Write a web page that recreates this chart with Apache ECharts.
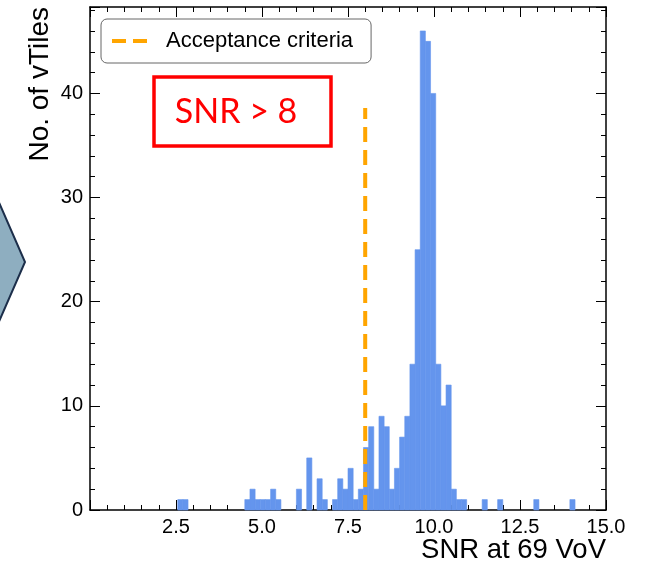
<!DOCTYPE html>
<html>
<head>
<meta charset="utf-8">
<script src="https://cdn.jsdelivr.net/npm/echarts@6/dist/echarts.min.js"></script>
<style>html,body{margin:0;padding:0;background:#fff}#c{width:651px;height:565px}</style>
</head>
<body>
<div id="c"></div>
<script>
// Histogram data (bin start, count); bin width 0.15
const binWidth = 0.15;
const binStarts = [2.55, 2.70, 4.50, 4.65, 4.80, 4.95, 5.10, 5.25, 5.40, 6.00, 6.30, 6.60, 6.75, 7.05, 7.20, 7.35, 7.50, 7.65, 7.80, 7.95, 8.10, 8.25, 8.40, 8.55, 8.70, 8.85, 9.00, 9.15, 9.30, 9.45, 9.60, 9.75, 9.90, 10.05, 10.20, 10.35, 10.50, 10.65, 10.80, 11.40, 11.85, 12.90, 13.95];
const counts    = [1,    1,    1,    2,    1,    1,    1,    2,    1,    2,    5,    3,    1,    1,    3,    2,    4,    1,    2,    6,    8,    2,    9,    8,    2,    4,    7,    9,    14,   25,   46,   45,   40,   14,    10,    12,    2,     1,     1,     1,     1,     1,     1];
// Acceptance criterion line
const criterionX = [8, 8];
const criterionY = [0, 38.6];
const xTickLabels = ['2.5', '5.0', '7.5', '10.0', '12.5', '15.0'];
const yTickLabels = ['0', '10', '20', '30', '40'];

const chart = echarts.init(document.getElementById('c'), null, {renderer: 'canvas'});
const FONT = 'Liberation Sans';
const black = '#000';

function xAxisDef(pos, labels) {
  return {
    type: 'value', min: 0, max: 15, interval: 2.5, position: pos,
    axisLine: {show: true, onZero: false, lineStyle: {color: black, width: 1.5}},
    axisTick: {show: true, inside: true, length: 10, lineStyle: {color: black, width: 1}},
    minorTick: {show: true, splitNumber: 5, length: 5, lineStyle: {color: black, width: 1}},
    splitLine: {show: false}, minorSplitLine: {show: false},
    axisLabel: {
      show: labels, fontSize: 20, color: black, fontFamily: FONT, margin: 7,
      formatter: function (v) { const s = v.toFixed(1); return xTickLabels.indexOf(s) >= 0 ? s : ''; }
    }
  };
}
function yAxisDef(pos, interval, len, labels, line) {
  return {
    type: 'value', min: 0, max: 48.3, interval: interval, position: pos, offset: 0,
    axisLine: {show: line, onZero: false, lineStyle: {color: black, width: 1.5}},
    axisTick: {show: true, inside: true, length: len, lineStyle: {color: black, width: 1}},
    splitLine: {show: false},
    axisLabel: {
      show: labels, fontSize: 20, color: black, fontFamily: FONT, margin: 7,
      formatter: function (v) { const s = String(v); return yTickLabels.indexOf(s) >= 0 ? s : ''; }
    }
  };
}

const option = {
  animation: false,
  backgroundColor: '#fff',
  grid: {left: 90, right: 45, top: 7, bottom: 55, containLabel: false},
  xAxis: [xAxisDef('bottom', true), xAxisDef('top', false)],
  yAxis: [
    yAxisDef('left', 10, 10, true, true),
    yAxisDef('left', 2, 5, false, false),
    yAxisDef('right', 10, 10, false, true),
    yAxisDef('right', 2, 5, false, false)
  ],
  legend: {
    left: 101, top: 19,
    data: [{name: 'Acceptance criteria', icon: 'path://M0,0H14V4H0Z M21,0H35V4H21Z'}],
    padding: [11, 18, 11, 11],
    itemWidth: 35, itemHeight: 4,
    borderColor: '#666', borderWidth: 1, borderRadius: 6,
    backgroundColor: '#fff',
    itemStyle: {color: '#FFA500', borderWidth: 0},
    lineStyle: {width: 0},
    textStyle: {fontSize: 22, color: black, fontFamily: FONT, padding: [0, 0, 0, 14]}
  },
  series: [
    {
      name: 'SNR histogram',
      type: 'custom',
      xAxisIndex: 0, yAxisIndex: 0,
      data: binStarts.map(function (s, i) { return [s, counts[i]]; }),
      renderItem: function (params, api) {
        const x0 = api.value(0), c = api.value(1);
        const p0 = api.coord([x0, c]);
        const p1 = api.coord([x0 + binWidth, 0]);
        return {
          type: 'rect',
          shape: {x: p0[0], y: p0[1], width: p1[0] - p0[0], height: p1[1] - p0[1]},
          style: {fill: '#6495ED', stroke: '#6495ED', lineWidth: 0.6}
        };
      },
      z: 2
    },
    {
      name: 'Acceptance criteria',
      type: 'line',
      xAxisIndex: 0, yAxisIndex: 0,
      data: criterionX.map(function (x, i) { return [x, criterionY[i]]; }),
      symbol: 'none', showSymbol: false,
      lineStyle: {color: '#FFA500', width: 4, type: [15, 8]},
      itemStyle: {color: '#FFA500'},
      z: 5
    }
  ],
  graphic: [
    {
      type: 'polygon', silent: true,
      shape: {points: [[-10, 182], [25, 262], [-10, 342]]},
      style: {fill: '#8eaec0', stroke: '#1c2e4a', lineWidth: 2}
    },
    {
      type: 'rect', silent: true,
      shape: {x: 154, y: 77, width: 177, height: 69},
      style: {fill: 'rgba(0,0,0,0)', stroke: '#ff0000', lineWidth: 3.5}
    },
    {
      type: 'text', silent: true, x: 236, y: 112,
      style: {text: 'SNR > 8', fill: '#ff0000', font: '34px Lato', align: 'center', verticalAlign: 'middle'}
    },
    {
      type: 'text', silent: true, x: 606, y: 550,
      style: {text: 'SNR at 69 VoV', fill: black, font: '27.5px "Liberation Sans"', align: 'right', verticalAlign: 'middle'}
    },
    {
      type: 'text', silent: true, x: 40, y: 7, rotation: Math.PI / 2,
      style: {text: 'No. of vTiles', fill: black, font: '28px "Liberation Sans"', align: 'right', verticalAlign: 'middle'}
    }
  ]
};
chart.setOption(option);
</script>
</body>
</html>
